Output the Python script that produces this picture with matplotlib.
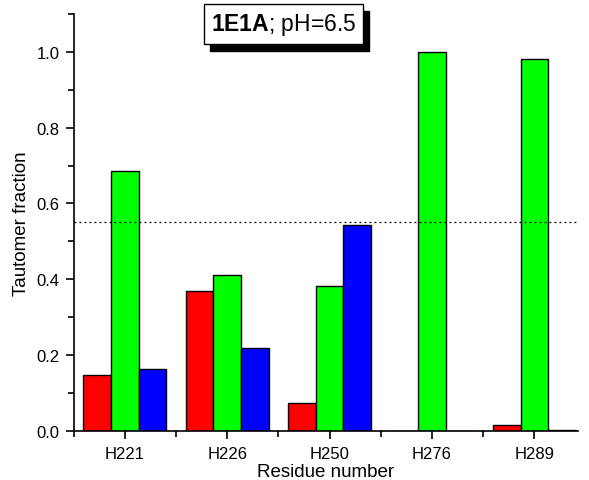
import numpy as np
import matplotlib.pyplot as plt
from matplotlib.ticker import MultipleLocator
from matplotlib.patches import Rectangle

plt.rcParams['font.family'] = ['Liberation Sans', 'DejaVu Sans']
plt.rcParams['mathtext.fontset'] = 'custom'
plt.rcParams['mathtext.bf'] = 'Liberation Sans:bold'
plt.rcParams['mathtext.rm'] = 'Liberation Sans'

# Data
residues = ['H221', 'H226', 'H250', 'H276', 'H289']
red_vals = [0.148, 0.368, 0.074, 0.0, 0.016]
green_vals = [0.685, 0.411, 0.382, 1.0, 0.980]
blue_vals = [0.164, 0.218, 0.542, 0.0, 0.002]
threshold = 0.55

fig = plt.figure(figsize=(5.89, 4.81), dpi=100)
ax = fig.add_axes([0.125, 0.102, 0.857, 0.867])

x = np.arange(len(residues))
w = 0.27
ax.bar(x - w, red_vals, w, color='#ff0000', edgecolor='black', linewidth=1)
ax.bar(x, green_vals, w, color='#00ff00', edgecolor='black', linewidth=1)
ax.bar(x + w, blue_vals, w, color='#0000ff', edgecolor='black', linewidth=1)

ax.axhline(threshold, color='black', linestyle=(0, (1.5, 2.5)), linewidth=0.9)

ax.set_xlim(-0.5, 4.43)
ax.set_ylim(0, 1.1)
ax.set_xticks(x)
ax.set_xticklabels(residues)
ax.xaxis.set_minor_locator(MultipleLocator(1, offset=0.5))
ax.yaxis.set_major_locator(MultipleLocator(0.2))
ax.yaxis.set_minor_locator(MultipleLocator(0.1))
ax.yaxis.set_major_formatter(plt.FormatStrFormatter('%.1f'))

for s in ['top', 'right']:
    ax.spines[s].set_visible(False)
ax.spines['left'].set_linewidth(1.2)
ax.spines['bottom'].set_linewidth(1.2)
ax.tick_params(which='major', direction='out', length=6, width=1.2, labelsize=12)
ax.tick_params(which='minor', direction='out', length=4, width=1.2)
ax.tick_params(axis='y', pad=4)
ax.tick_params(axis='x', pad=5)

ax.set_xlabel('Residue number', fontsize=13.5, labelpad=1)
ax.set_ylabel('Tautomer fraction', fontsize=13.5, labelpad=5)

# title box with a black shadow
title = r'$\mathbf{1E1A}$; pH=6.5'
t = fig.text(0.481, 0.948, title, ha='center', va='center', fontsize=16.5,
             zorder=5,
             bbox=dict(boxstyle='square,pad=0.3', fc='white', ec='black', lw=1))
fig.canvas.draw()
bb = t.get_bbox_patch().get_window_extent().transformed(fig.transFigure.inverted())
fig.add_artist(Rectangle((bb.x0 + 6 / 589, bb.y0 - 7 / 481), bb.width, bb.height,
                         transform=fig.transFigure, fc='black', ec='black',
                         zorder=4))

fig.savefig('out.png', dpi=100)
